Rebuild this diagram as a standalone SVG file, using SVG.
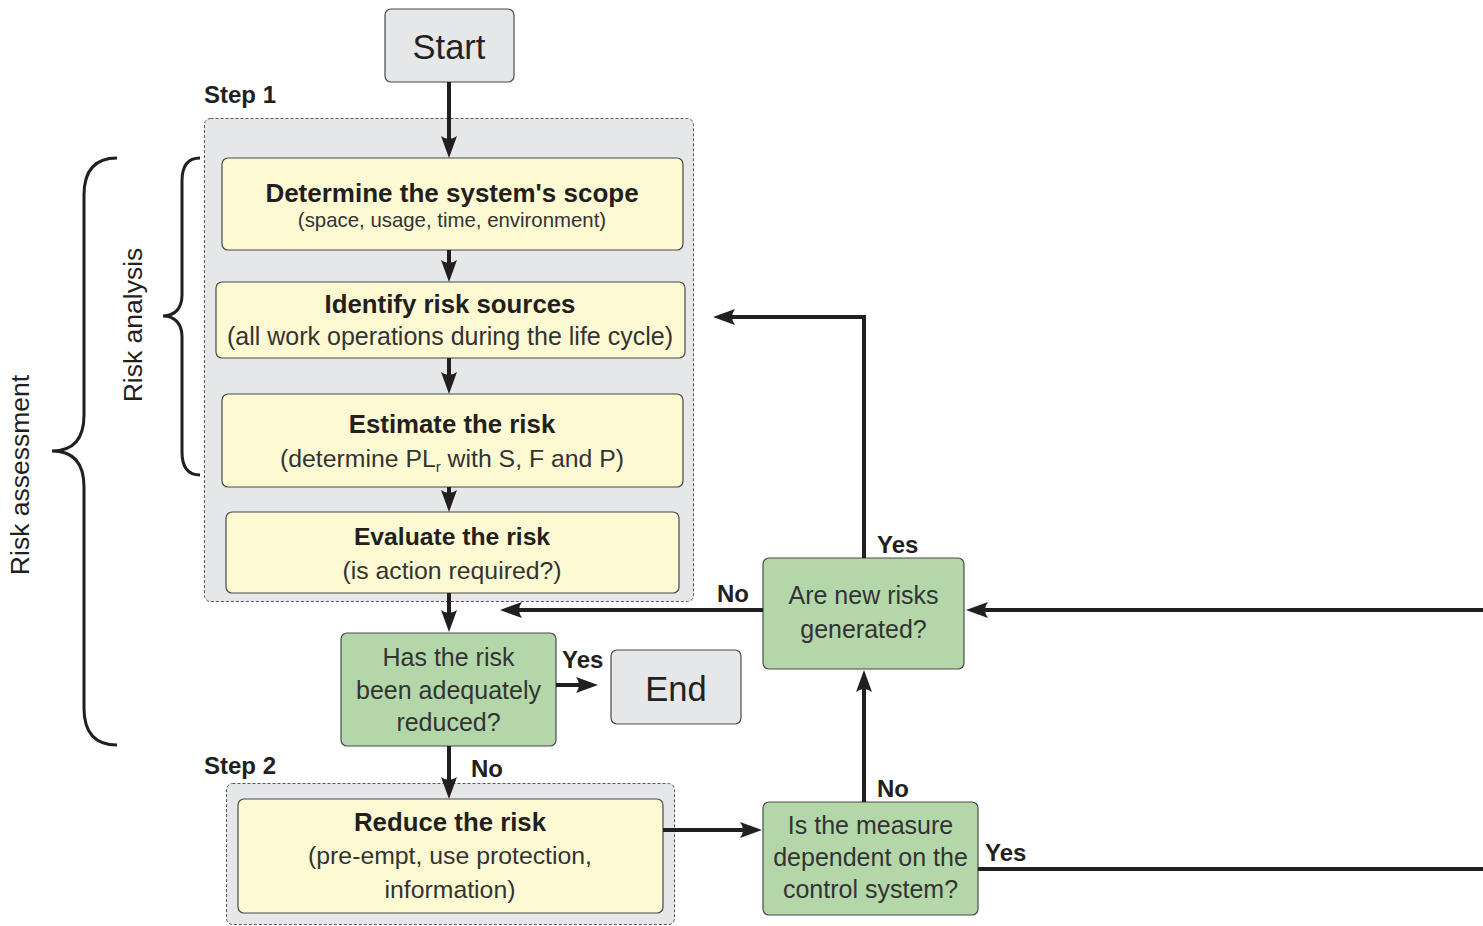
<svg xmlns="http://www.w3.org/2000/svg" width="1483" height="926" viewBox="0 0 1483 926">
<defs>
<style>
text{font-family:"Liberation Sans",Arial,sans-serif;fill:#231f20}
.title{font-weight:bold;font-size:25.8px;text-anchor:middle}
.sub{font-size:24.8px;text-anchor:middle;fill:#333}
.q{font-size:25px;text-anchor:middle;fill:#333}
.lbl{font-weight:bold;font-size:24px}
.step{font-weight:bold;font-size:24px}
.term{font-size:34.5px;text-anchor:middle;fill:#222}
.side{font-size:26.5px;text-anchor:middle}
.box{fill:#fdf9d2;stroke:#4a4a4a;stroke-width:1.2}
.dec{fill:#b3d7a9;stroke:#4a4a4a;stroke-width:1.2}
.termbox{fill:#e6e7e9;stroke:#4a4a4a;stroke-width:1.2}
.cont{fill:#e6e7e9;stroke:#555;stroke-width:1;stroke-dasharray:3 2}
.conn{fill:none;stroke:#231f20;stroke-width:4}
.arr{marker-end:url(#ah)}
.brace{fill:none;stroke:#231f20;stroke-width:3}
</style>
<marker id="ah" viewBox="-23 -9 24 18" refX="-9" refY="0" markerWidth="24" markerHeight="18" markerUnits="userSpaceOnUse" orient="auto">
<path d="M0,0 L-22,-8 Q-16,0 -22,8 Z" fill="#231f20"/>
</marker>
</defs>
<rect width="1483" height="926" fill="#fff"/>

<g id="braces">
<path class="brace" d="M117,158 C95,158 84,170 84,195 V415 C84,440 72,451 52,451 C72,451 84,462 84,487 V708 C84,733 95,745 117,745"/>
<path class="brace" d="M200,158 C188,158 182,166 182,181 V295 C182,308 175,316 163,316 C175,316 182,324 182,337 V452 C182,467 188,475 200,475"/>
<text class="side" transform="translate(29,475) rotate(-90)">Risk assessment</text>
<text class="side" transform="translate(142,325) rotate(-90)">Risk analysis</text>
</g>

<g id="step1">
<rect class="cont" x="204.5" y="118.5" width="489" height="483" rx="6"/>
<text class="step" x="204" y="103">Step 1</text>
</g>
<g id="step2">
<rect class="cont" x="226.5" y="783.5" width="448" height="141" rx="6"/>
<text class="step" x="204" y="774">Step 2</text>
</g>

<g id="start">
<rect class="termbox" x="385" y="9" width="129" height="73" rx="6"/>
<text class="term" x="449" y="59">Start</text>
</g>

<g id="scope">
<rect class="box" x="222" y="158" width="461" height="92" rx="6"/>
<text class="title" x="452" y="202" style="font-size:26px">Determine the system's scope</text>
<text class="sub" x="452" y="227" style="font-size:20.4px">(space, usage, time, environment)</text>
</g>

<g id="identify">
<rect class="box" x="216" y="282" width="469" height="76" rx="6"/>
<text class="title" x="450" y="313">Identify risk sources</text>
<text class="sub" x="450" y="345" style="font-size:25px">(all work operations during the life cycle)</text>
</g>

<g id="estimate">
<rect class="box" x="222" y="394" width="461" height="93" rx="6"/>
<text class="title" x="452" y="433">Estimate the risk</text>
<text class="sub" x="452" y="467">(determine PL<tspan font-size="15" dy="5">r</tspan><tspan dy="-5"> with S, F and P)</tspan></text>
</g>

<g id="evaluate">
<rect class="box" x="226" y="512" width="453" height="81" rx="6"/>
<text class="title" x="452" y="545" style="font-size:24.7px">Evaluate the risk</text>
<text class="sub" x="452" y="579">(is action required?)</text>
</g>

<g id="adequate">
<rect class="dec" x="341" y="633" width="215" height="113" rx="6"/>
<text class="q" x="448.5" y="666">Has the risk</text>
<text class="q" x="448.5" y="699">been adequately</text>
<text class="q" x="448.5" y="731">reduced?</text>
</g>

<g id="end">
<rect class="termbox" x="611" y="650" width="130" height="74" rx="6"/>
<text class="term" x="676" y="701">End</text>
</g>

<g id="reduce">
<rect class="box" x="238" y="799" width="425" height="114" rx="6"/>
<text class="title" x="450" y="831">Reduce the risk</text>
<text class="sub" x="450" y="864">(pre-empt, use protection,</text>
<text class="sub" x="450" y="898">information)</text>
</g>

<g id="newrisks">
<rect class="dec" x="763" y="558" width="201" height="111" rx="6"/>
<text class="q" x="863.5" y="604">Are new risks</text>
<text class="q" x="863.5" y="638">generated?</text>
</g>

<g id="measure">
<rect class="dec" x="763" y="802" width="215" height="113" rx="6"/>
<text class="q" x="870.5" y="834">Is the measure</text>
<text class="q" x="870.5" y="866">dependent on the</text>
<text class="q" x="870.5" y="898">control system?</text>
</g>

<g id="connectors">
<line class="conn arr" x1="449" y1="82" x2="449" y2="149"/>
<line class="conn arr" x1="449" y1="250" x2="449" y2="273"/>
<line class="conn arr" x1="449" y1="358" x2="449" y2="385"/>
<line class="conn arr" x1="449" y1="487" x2="449" y2="503"/>
<line class="conn arr" x1="449" y1="593" x2="449" y2="623"/>
<line class="conn arr" x1="556" y1="685" x2="589" y2="685"/>
<line class="conn arr" x1="449" y1="746" x2="449" y2="790"/>
<line class="conn arr" x1="663" y1="830" x2="753" y2="830"/>
<line class="conn arr" x1="864" y1="802" x2="864" y2="679"/>
<line class="conn arr" x1="763" y1="610" x2="509" y2="610"/>
<polyline class="conn arr" points="864,558 864,317 722,317"/>
<line class="conn arr" x1="1483" y1="610" x2="975" y2="610"/>
<line class="conn" x1="978" y1="869" x2="1483" y2="869"/>
</g>

<g id="labels">
<text class="lbl" x="562" y="668">Yes</text>
<text class="lbl" x="471" y="777">No</text>
<text class="lbl" x="717" y="602">No</text>
<text class="lbl" x="877" y="553">Yes</text>
<text class="lbl" x="877" y="797">No</text>
<text class="lbl" x="985" y="861">Yes</text>
</g>
</svg>
